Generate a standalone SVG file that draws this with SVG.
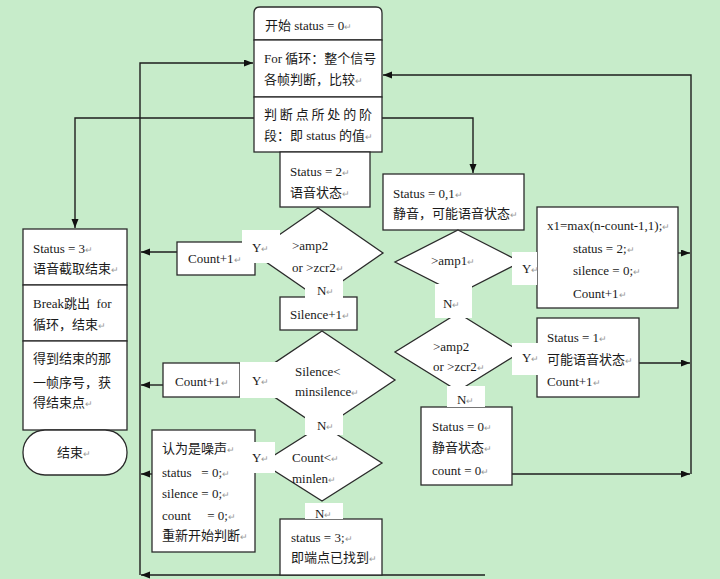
<svg xmlns="http://www.w3.org/2000/svg" width="720" height="579" viewBox="0 0 720 579">
<style>
.bg{fill:#c7ecca}
.box{fill:#fff;stroke:#2b2b2b;stroke-width:1.3}
.ln{fill:none;stroke:#1e1e1e;stroke-width:1.4}
.lbl{fill:#fff;stroke:none}
text{font-family:"Liberation Serif","Noto Sans CJK SC",serif;font-size:13px;fill:#1a1a1a}
.pm{font-size:9px;fill:#999}
</style>
<defs>
<marker id="ah" markerUnits="userSpaceOnUse" markerWidth="10" markerHeight="8" refX="9" refY="3.5" orient="auto">
<path d="M0,0 L9,3.5 L0,7 z" fill="#111"/>
</marker>
</defs>
<rect class="bg" x="0" y="0" width="720" height="579"/>

<g id="connectors">
<path class="ln" d="M140,575 V63 H253" marker-end="url(#ah)"/>
<path class="ln" d="M485,575 H141" marker-end="url(#ah)"/>
<path class="ln" d="M177,252 H141" marker-end="url(#ah)"/>
<path class="ln" d="M163,385 H141" marker-end="url(#ah)"/>
<path class="ln" d="M152,474 H141" marker-end="url(#ah)"/>
<path class="ln" d="M254,118 H75 V228" marker-end="url(#ah)"/>
<path class="ln" d="M382,118 H473 V173" marker-end="url(#ah)"/>
<path class="ln" d="M691,474 V75 H383" marker-end="url(#ah)"/>
<path class="ln" d="M678,253 H690" marker-end="url(#ah)"/>
<path class="ln" d="M639,363 H690" marker-end="url(#ah)"/>
<path class="ln" d="M512,474 H690" marker-end="url(#ah)"/>
</g>

<g id="start">
<path class="box" d="M254,40 V13 Q254,7 260,7 H376 Q382,7 382,13 V40 Z"/>
<text x="265" y="30">开始 status = 0<tspan class="pm">↵</tspan></text>
</g>
<g id="forloop">
<rect class="box" x="254" y="40" width="128" height="57"/>
<text x="264" y="63">For 循环：整个信号</text>
<text x="264" y="84">各帧判断，比较<tspan class="pm">↵</tspan></text>
</g>
<g id="judge">
<rect class="box" x="254" y="97" width="128" height="55"/>
<text x="264" y="119" textLength="108" lengthAdjust="spacing">判断点所处的阶</text>
<text x="264" y="140">段：即 status 的值<tspan class="pm">↵</tspan></text>
</g>

<g id="status2">
<rect class="box" x="280" y="152" width="90" height="55"/>
<text x="290" y="176">Status = 2<tspan class="pm">↵</tspan></text>
<text x="290" y="197">语音状态<tspan class="pm">↵</tspan></text>
</g>
<g id="dec-amp2-left">
<polygon class="box" points="318,208 383,253 318,298 253,253"/>
<text x="292" y="250">&gt;amp2</text>
<text x="292" y="272">or &gt;zcr2<tspan class="pm">↵</tspan></text>
</g>
<g id="count1-a">
<rect class="box" x="177" y="242" width="78" height="33"/>
<text x="188" y="263">Count+1<tspan class="pm">↵</tspan></text>
</g>
<g id="silence1">
<rect class="box" x="280" y="297" width="77" height="33"/>
<text x="290" y="319">Silence+1<tspan class="pm">↵</tspan></text>
</g>
<g id="dec-silence">
<polygon class="box" points="322,331 395,380 322,429 249,380"/>
<text x="295" y="376">Silence&lt;</text>
<text x="295" y="396">minsilence<tspan class="pm">↵</tspan></text>
</g>
<g id="count1-b">
<rect class="box" x="163" y="363" width="77" height="34"/>
<text x="175" y="386">Count+1<tspan class="pm">↵</tspan></text>
</g>
<g id="dec-count">
<polygon class="box" points="322,425 382,463 322,501 262,463"/>
<text x="292" y="462">Count&lt;<tspan class="pm">↵</tspan></text>
<text x="292" y="483">minlen<tspan class="pm">↵</tspan></text>
</g>
<g id="noise">
<rect class="box" x="152" y="430" width="103" height="122"/>
<text x="162" y="453">认为是噪声<tspan class="pm">↵</tspan></text>
<text x="162" y="477" xml:space="preserve">status   = 0;<tspan class="pm">↵</tspan></text>
<text x="162" y="498">silence = 0;<tspan class="pm">↵</tspan></text>
<text x="162" y="520" xml:space="preserve">count     = 0;<tspan class="pm">↵</tspan></text>
<text x="162" y="540">重新开始判断<tspan class="pm">↵</tspan></text>
</g>
<g id="status3-found">
<rect class="box" x="280" y="519" width="102" height="56"/>
<text x="291" y="542">status = 3;<tspan class="pm">↵</tspan></text>
<text x="291" y="562">即端点已找到<tspan class="pm">↵</tspan></text>
</g>

<g id="status01">
<rect class="box" x="383" y="174" width="141" height="56"/>
<text x="393" y="198">Status = 0,1<tspan class="pm">↵</tspan></text>
<text x="393" y="218">静音，可能语音状态<tspan class="pm">↵</tspan></text>
</g>
<g id="dec-amp1">
<polygon class="box" points="458,230 521,262 458,294 395,262"/>
<text x="431" y="265">&gt;amp1<tspan class="pm">↵</tspan></text>
</g>
<g id="x1box">
<rect class="box" x="537" y="207" width="141" height="101"/>
<text x="547" y="230">x1=max(n-count-1,1);<tspan class="pm">↵</tspan></text>
<text x="573" y="253">status = 2;<tspan class="pm">↵</tspan></text>
<text x="573" y="275">silence = 0;<tspan class="pm">↵</tspan></text>
<text x="573" y="298">Count+1<tspan class="pm">↵</tspan></text>
</g>
<g id="dec-amp2-right">
<polygon class="box" points="458,313 521,352 458,391 395,352"/>
<text x="433" y="351">&gt;amp2</text>
<text x="433" y="371">or &gt;zcr2<tspan class="pm">↵</tspan></text>
</g>
<g id="status1">
<rect class="box" x="537" y="318" width="102" height="79"/>
<text x="547" y="342">Status = 1<tspan class="pm">↵</tspan></text>
<text x="547" y="364">可能语音状态<tspan class="pm">↵</tspan></text>
<text x="547" y="386">Count+1<tspan class="pm">↵</tspan></text>
</g>
<g id="status0">
<rect class="box" x="421" y="407" width="91" height="78"/>
<text x="432" y="431">Status = 0<tspan class="pm">↵</tspan></text>
<text x="432" y="452">静音状态<tspan class="pm">↵</tspan></text>
<text x="432" y="475">count = 0<tspan class="pm">↵</tspan></text>
</g>

<g id="status3-end">
<rect class="box" x="23" y="229" width="104" height="56"/>
<text x="33" y="253">Status = 3<tspan class="pm">↵</tspan></text>
<text x="33" y="273">语音截取结束<tspan class="pm">↵</tspan></text>
</g>
<g id="break">
<rect class="box" x="23" y="285" width="104" height="56"/>
<text x="33" y="308" xml:space="preserve">Break跳出  for</text>
<text x="33" y="329">循环，结束<tspan class="pm">↵</tspan></text>
</g>
<g id="getend">
<rect class="box" x="23" y="341" width="104" height="89"/>
<text x="33" y="363">得到结束的那</text>
<text x="33" y="387">一帧序号，获</text>
<text x="33" y="407">得结束点<tspan class="pm">↵</tspan></text>
</g>
<g id="end">
<rect class="box" x="23" y="430" width="104" height="45" rx="22" ry="22"/>
<text x="57" y="457">结束<tspan class="pm">↵</tspan></text>
</g>

<g id="edge-labels">
<rect class="lbl" x="242" y="230" width="38" height="33"/>
<text x="252" y="252">Y<tspan class="pm">↵</tspan></text>
<rect class="lbl" x="305" y="280" width="38" height="18"/>
<text x="317" y="295">N<tspan class="pm">↵</tspan></text>
<rect class="lbl" x="240" y="362" width="40" height="36"/>
<text x="252" y="385">Y<tspan class="pm">↵</tspan></text>
<rect class="lbl" x="305" y="414" width="38" height="21"/>
<text x="317" y="430">N<tspan class="pm">↵</tspan></text>
<rect class="lbl" x="250" y="442" width="25" height="31"/>
<text x="252" y="462">Y<tspan class="pm">↵</tspan></text>
<rect class="lbl" x="305" y="503" width="38" height="16"/>
<text x="315" y="518">N<tspan class="pm">↵</tspan></text>
<rect class="lbl" x="512" y="252" width="25" height="33"/>
<text x="522" y="273">Y<tspan class="pm">↵</tspan></text>
<rect class="lbl" x="435" y="284" width="37" height="34"/>
<text x="443" y="308">N<tspan class="pm">↵</tspan></text>
<rect class="lbl" x="512" y="343" width="35" height="32"/>
<text x="522" y="362">Y<tspan class="pm">↵</tspan></text>
<rect class="lbl" x="447" y="386" width="38" height="21"/>
<text x="457" y="404">N<tspan class="pm">↵</tspan></text>
</g>
</svg>
